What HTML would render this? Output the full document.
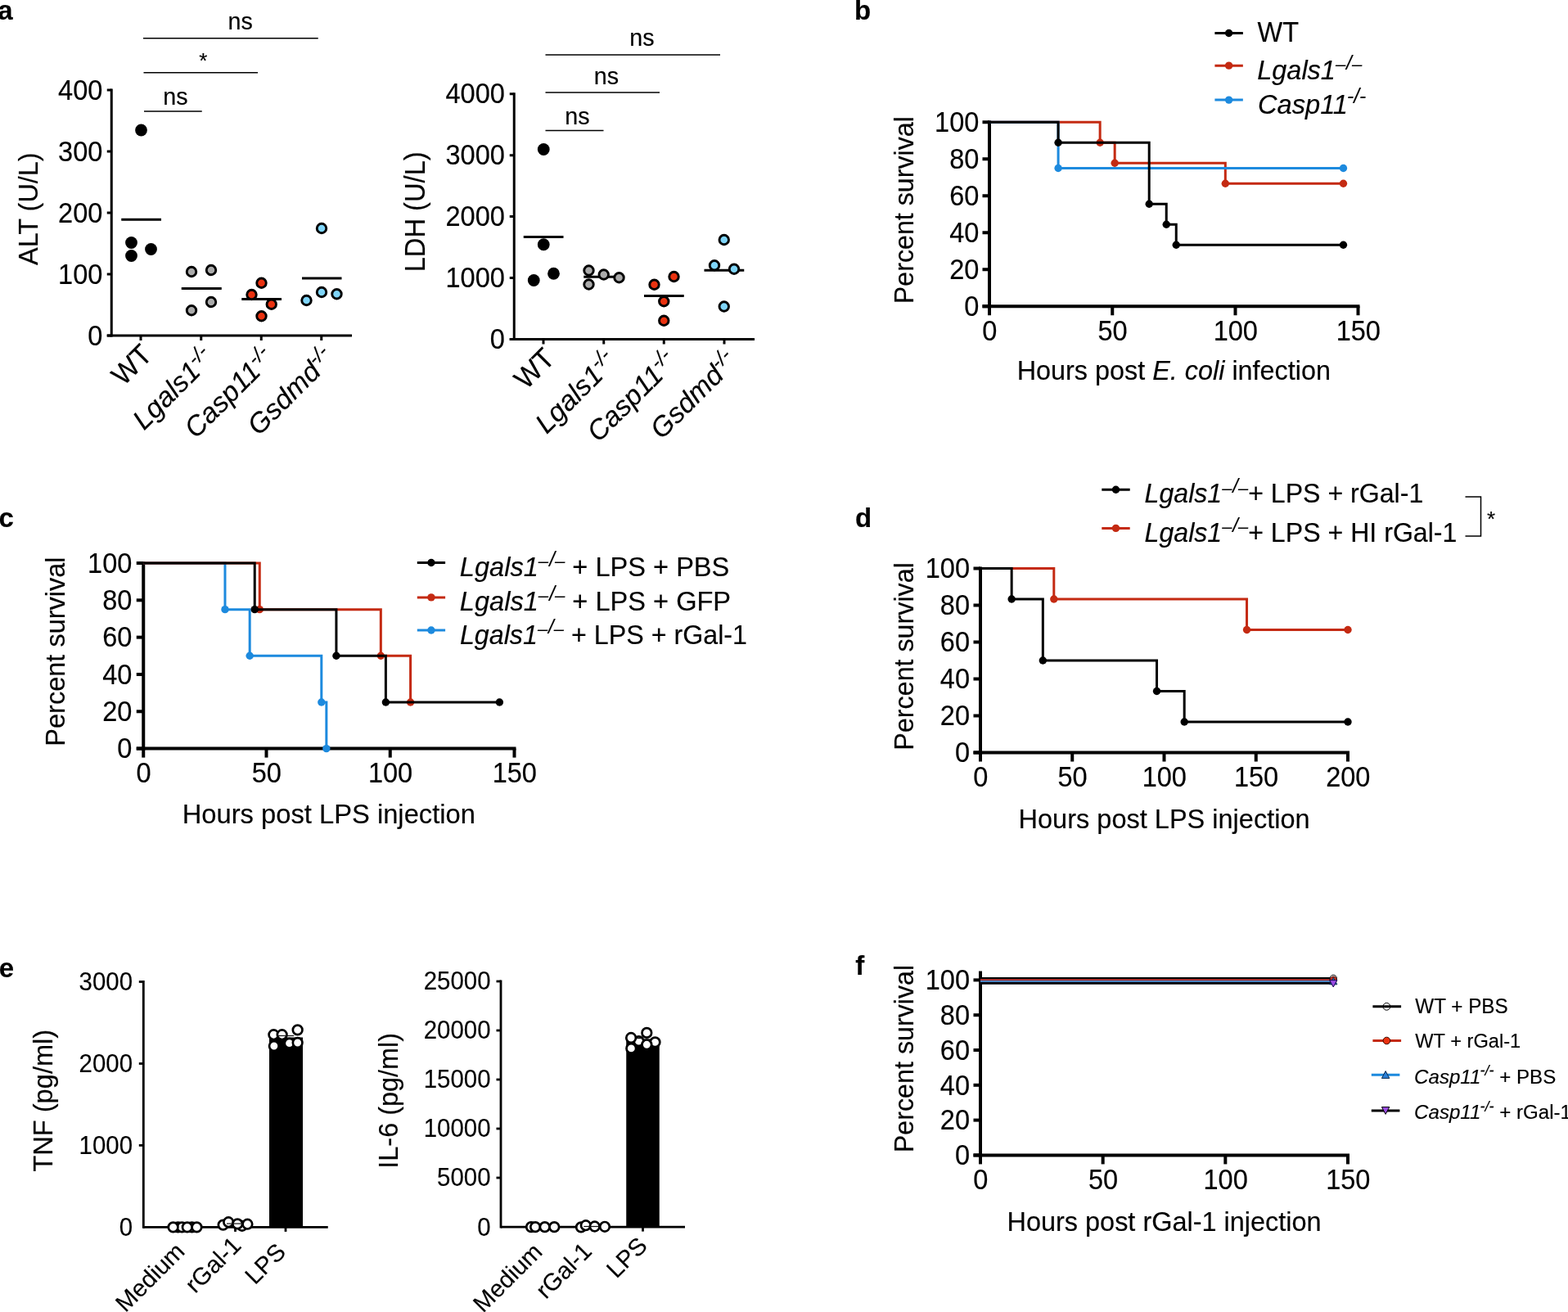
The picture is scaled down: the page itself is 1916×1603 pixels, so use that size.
<!DOCTYPE html>
<html lang="en">
<head>
<meta charset="utf-8">
<title>Figure</title>
<style>html,body{margin:0;padding:0;background:#fff}svg{display:block}text{white-space:pre}</style>
</head>
<body>
<svg xmlns="http://www.w3.org/2000/svg" width="1916" height="1603" viewBox="0 0 1916 1603" font-family='"Liberation Sans", Arial, Helvetica, sans-serif' fill="#000">
<style>text{stroke:#000;stroke-width:0.15px;stroke-linejoin:round}</style>
<rect width="1916" height="1603" fill="#fff"/>
<text transform="translate(-2.68 24.4)" font-size="33" font-weight="bold">a</text>
<line x1="136.25" y1="108.5" x2="136.25" y2="411.5" stroke="#000" stroke-width="3"/>
<line x1="130.75" y1="410" x2="430" y2="410" stroke="#000" stroke-width="3"/>
<line x1="130.75" y1="110" x2="136.25" y2="110" stroke="#000" stroke-width="3"/>
<text transform="translate(125.3 121.7) scale(1 1.07)" font-size="32.5" text-anchor="end">400</text>
<line x1="130.75" y1="185" x2="136.25" y2="185" stroke="#000" stroke-width="3"/>
<text transform="translate(125.3 196.7) scale(1 1.07)" font-size="32.5" text-anchor="end">300</text>
<line x1="130.75" y1="260" x2="136.25" y2="260" stroke="#000" stroke-width="3"/>
<text transform="translate(125.3 271.7) scale(1 1.07)" font-size="32.5" text-anchor="end">200</text>
<line x1="130.75" y1="335" x2="136.25" y2="335" stroke="#000" stroke-width="3"/>
<text transform="translate(125.3 346.7) scale(1 1.07)" font-size="32.5" text-anchor="end">100</text>
<line x1="130.75" y1="410" x2="136.25" y2="410" stroke="#000" stroke-width="3"/>
<text transform="translate(125.3 421.7) scale(1 1.07)" font-size="32.5" text-anchor="end">0</text>
<line x1="172" y1="410" x2="172" y2="416" stroke="#000" stroke-width="3"/>
<line x1="245.75" y1="410" x2="245.75" y2="416" stroke="#000" stroke-width="3"/>
<line x1="319.25" y1="410" x2="319.25" y2="416" stroke="#000" stroke-width="3"/>
<line x1="392.75" y1="410" x2="392.75" y2="416" stroke="#000" stroke-width="3"/>
<text transform="translate(188 435.5) rotate(-45) scale(1 1.03)" font-size="34" text-anchor="end">WT</text>
<text transform="translate(263.45 439.2) rotate(-45)" font-size="34" text-anchor="end" font-style="italic">Lgals1<tspan dy="-11.5" font-size="25">-/-</tspan></text>
<text transform="translate(336.95 439.2) rotate(-45)" font-size="34" text-anchor="end" font-style="italic">Casp11<tspan dy="-11.5" font-size="25">-/-</tspan></text>
<text transform="translate(410.45 439.2) rotate(-45)" font-size="34" text-anchor="end" font-style="italic">Gsdmd<tspan dy="-11.5" font-size="25">-/-</tspan></text>
<line x1="148.25" y1="268.25" x2="197" y2="268.25" stroke="#000" stroke-width="3"/>
<circle cx="172.5" cy="159" r="7.4" fill="#000"/>
<circle cx="160.5" cy="296.5" r="7.4" fill="#000"/>
<circle cx="184.5" cy="304.5" r="7.4" fill="#000"/>
<circle cx="160.5" cy="312.5" r="7.4" fill="#000"/>
<line x1="221.75" y1="352.5" x2="270.75" y2="352.5" stroke="#000" stroke-width="3"/>
<circle cx="234" cy="332" r="5.75" fill="#ababab" stroke="#000" stroke-width="2.9"/>
<circle cx="258" cy="330" r="5.75" fill="#ababab" stroke="#000" stroke-width="2.9"/>
<circle cx="258" cy="369" r="5.75" fill="#ababab" stroke="#000" stroke-width="2.9"/>
<circle cx="234" cy="379.25" r="5.75" fill="#ababab" stroke="#000" stroke-width="2.9"/>
<line x1="295.25" y1="365.5" x2="344" y2="365.5" stroke="#000" stroke-width="3"/>
<circle cx="319.5" cy="345.75" r="5.75" fill="#ea3210" stroke="#000" stroke-width="2.9"/>
<circle cx="307.5" cy="360" r="5.75" fill="#ea3210" stroke="#000" stroke-width="2.9"/>
<circle cx="331.75" cy="371.75" r="5.75" fill="#ea3210" stroke="#000" stroke-width="2.9"/>
<circle cx="319.5" cy="386.25" r="5.75" fill="#ea3210" stroke="#000" stroke-width="2.9"/>
<line x1="369" y1="340" x2="417.5" y2="340" stroke="#000" stroke-width="3"/>
<circle cx="393" cy="279" r="5.75" fill="#7fd5f9" stroke="#000" stroke-width="2.9"/>
<circle cx="374.5" cy="367" r="5.75" fill="#7fd5f9" stroke="#000" stroke-width="2.9"/>
<circle cx="393" cy="357" r="5.75" fill="#7fd5f9" stroke="#000" stroke-width="2.9"/>
<circle cx="411.5" cy="359.25" r="5.75" fill="#7fd5f9" stroke="#000" stroke-width="2.9"/>
<line x1="175" y1="46.75" x2="388.75" y2="46.75" stroke="#000" stroke-width="1.5"/>
<text transform="translate(293.7 36)" font-size="28.7" text-anchor="middle">ns</text>
<line x1="175.5" y1="88.75" x2="315" y2="88.75" stroke="#000" stroke-width="1.5"/>
<text transform="translate(248.3 83)" font-size="26" text-anchor="middle">*</text>
<line x1="176" y1="136" x2="246.75" y2="136" stroke="#000" stroke-width="1.5"/>
<text transform="translate(214.4 127.5)" font-size="28.7" text-anchor="middle">ns</text>
<text transform="translate(45.8 323.95) rotate(-90) scale(1 1.05)" font-size="32.46">ALT (U/L)</text>
<line x1="628.25" y1="113.25" x2="628.25" y2="416" stroke="#000" stroke-width="3"/>
<line x1="622.75" y1="414.5" x2="922" y2="414.5" stroke="#000" stroke-width="3"/>
<line x1="622.75" y1="114.75" x2="628.25" y2="114.75" stroke="#000" stroke-width="3"/>
<text transform="translate(616.8 126.45) scale(1 1.07)" font-size="32.5" text-anchor="end">4000</text>
<line x1="622.75" y1="189.75" x2="628.25" y2="189.75" stroke="#000" stroke-width="3"/>
<text transform="translate(616.8 201.45) scale(1 1.07)" font-size="32.5" text-anchor="end">3000</text>
<line x1="622.75" y1="264.5" x2="628.25" y2="264.5" stroke="#000" stroke-width="3"/>
<text transform="translate(616.8 276.2) scale(1 1.07)" font-size="32.5" text-anchor="end">2000</text>
<line x1="622.75" y1="339.5" x2="628.25" y2="339.5" stroke="#000" stroke-width="3"/>
<text transform="translate(616.8 351.2) scale(1 1.07)" font-size="32.5" text-anchor="end">1000</text>
<line x1="622.75" y1="414.5" x2="628.25" y2="414.5" stroke="#000" stroke-width="3"/>
<text transform="translate(616.8 426.2) scale(1 1.07)" font-size="32.5" text-anchor="end">0</text>
<line x1="664" y1="414.5" x2="664" y2="420.5" stroke="#000" stroke-width="3"/>
<line x1="737.75" y1="414.5" x2="737.75" y2="420.5" stroke="#000" stroke-width="3"/>
<line x1="811.25" y1="414.5" x2="811.25" y2="420.5" stroke="#000" stroke-width="3"/>
<line x1="885" y1="414.5" x2="885" y2="420.5" stroke="#000" stroke-width="3"/>
<text transform="translate(680 440) rotate(-45) scale(1 1.03)" font-size="34" text-anchor="end">WT</text>
<text transform="translate(755.45 443.7) rotate(-45)" font-size="34" text-anchor="end" font-style="italic">Lgals1<tspan dy="-11.5" font-size="25">-/-</tspan></text>
<text transform="translate(828.95 443.7) rotate(-45)" font-size="34" text-anchor="end" font-style="italic">Casp11<tspan dy="-11.5" font-size="25">-/-</tspan></text>
<text transform="translate(902.7 443.7) rotate(-45)" font-size="34" text-anchor="end" font-style="italic">Gsdmd<tspan dy="-11.5" font-size="25">-/-</tspan></text>
<line x1="639.75" y1="289.5" x2="688.5" y2="289.5" stroke="#000" stroke-width="3"/>
<circle cx="664.25" cy="182.5" r="7.4" fill="#000"/>
<circle cx="664.25" cy="298.75" r="7.4" fill="#000"/>
<circle cx="676.5" cy="334.25" r="7.4" fill="#000"/>
<circle cx="652.25" cy="342.5" r="7.4" fill="#000"/>
<line x1="713.25" y1="338.25" x2="762.25" y2="338.25" stroke="#000" stroke-width="3"/>
<circle cx="719.5" cy="330.5" r="5.75" fill="#ababab" stroke="#000" stroke-width="2.9"/>
<circle cx="719.5" cy="347.5" r="5.75" fill="#ababab" stroke="#000" stroke-width="2.9"/>
<circle cx="737.75" cy="335.5" r="5.75" fill="#ababab" stroke="#000" stroke-width="2.9"/>
<circle cx="756.5" cy="339.25" r="5.75" fill="#ababab" stroke="#000" stroke-width="2.9"/>
<line x1="787" y1="361.5" x2="835.75" y2="361.5" stroke="#000" stroke-width="3"/>
<circle cx="823.5" cy="338" r="5.75" fill="#ea3210" stroke="#000" stroke-width="2.9"/>
<circle cx="799.5" cy="347.75" r="5.75" fill="#ea3210" stroke="#000" stroke-width="2.9"/>
<circle cx="811.25" cy="368.25" r="5.75" fill="#ea3210" stroke="#000" stroke-width="2.9"/>
<circle cx="811.25" cy="391.75" r="5.75" fill="#ea3210" stroke="#000" stroke-width="2.9"/>
<line x1="860.5" y1="330.25" x2="909.25" y2="330.25" stroke="#000" stroke-width="3"/>
<circle cx="884.75" cy="293" r="5.75" fill="#7fd5f9" stroke="#000" stroke-width="2.9"/>
<circle cx="873" cy="324.25" r="5.75" fill="#7fd5f9" stroke="#000" stroke-width="2.9"/>
<circle cx="897" cy="328.75" r="5.75" fill="#7fd5f9" stroke="#000" stroke-width="2.9"/>
<circle cx="884.75" cy="374.5" r="5.75" fill="#7fd5f9" stroke="#000" stroke-width="2.9"/>
<line x1="666.5" y1="67" x2="880" y2="67" stroke="#000" stroke-width="1.5"/>
<text transform="translate(784.4 56.25)" font-size="28.7" text-anchor="middle">ns</text>
<line x1="666.5" y1="113" x2="806" y2="113" stroke="#000" stroke-width="1.5"/>
<text transform="translate(741 102.5)" font-size="28.7" text-anchor="middle">ns</text>
<line x1="666.5" y1="159.5" x2="737.5" y2="159.5" stroke="#000" stroke-width="1.5"/>
<text transform="translate(705.4 151.75)" font-size="28.7" text-anchor="middle">ns</text>
<text transform="translate(519 332.36) rotate(-90) scale(1 1.05)" font-size="32.68">LDH (U/L)</text>
<text transform="translate(1043.99 24.3)" font-size="33" font-weight="bold">b</text>
<line x1="1209" y1="147.25" x2="1209" y2="376.25" stroke="#000" stroke-width="4"/>
<line x1="1200.5" y1="374.25" x2="1661.5" y2="374.25" stroke="#000" stroke-width="4"/>
<line x1="1200.5" y1="149.25" x2="1209" y2="149.25" stroke="#000" stroke-width="4"/>
<text transform="translate(1196.3 160.95) scale(1 1.07)" font-size="32.5" text-anchor="end">100</text>
<line x1="1200.5" y1="194.25" x2="1209" y2="194.25" stroke="#000" stroke-width="4"/>
<text transform="translate(1196.3 205.95) scale(1 1.07)" font-size="32.5" text-anchor="end">80</text>
<line x1="1200.5" y1="239.25" x2="1209" y2="239.25" stroke="#000" stroke-width="4"/>
<text transform="translate(1196.3 250.95) scale(1 1.07)" font-size="32.5" text-anchor="end">60</text>
<line x1="1200.5" y1="284.25" x2="1209" y2="284.25" stroke="#000" stroke-width="4"/>
<text transform="translate(1196.3 295.95) scale(1 1.07)" font-size="32.5" text-anchor="end">40</text>
<line x1="1200.5" y1="329.25" x2="1209" y2="329.25" stroke="#000" stroke-width="4"/>
<text transform="translate(1196.3 340.95) scale(1 1.07)" font-size="32.5" text-anchor="end">20</text>
<line x1="1200.5" y1="374.25" x2="1209" y2="374.25" stroke="#000" stroke-width="4"/>
<text transform="translate(1196.3 385.95) scale(1 1.07)" font-size="32.5" text-anchor="end">0</text>
<line x1="1209" y1="374.25" x2="1209" y2="385.25" stroke="#000" stroke-width="4"/>
<text transform="translate(1209.3 415.5) scale(1 1.07)" font-size="32.5" text-anchor="middle">0</text>
<line x1="1359.25" y1="374.25" x2="1359.25" y2="385.25" stroke="#000" stroke-width="4"/>
<text transform="translate(1359.55 415.5) scale(1 1.07)" font-size="32.5" text-anchor="middle">50</text>
<line x1="1509.5" y1="374.25" x2="1509.5" y2="385.25" stroke="#000" stroke-width="4"/>
<text transform="translate(1509.8 415.5) scale(1 1.07)" font-size="32.5" text-anchor="middle">100</text>
<line x1="1659.5" y1="374.25" x2="1659.5" y2="385.25" stroke="#000" stroke-width="4"/>
<text transform="translate(1659.8 415.5) scale(1 1.07)" font-size="32.5" text-anchor="middle">150</text>
<text transform="translate(1115.7 371.23) rotate(-90) scale(1 1.02)" font-size="32.22">Percent survival</text>
<text transform="translate(1242.66 463.9) scale(1 1.02)" font-size="32.39">Hours post <tspan font-style="italic">E. coli</tspan> infection</text>
<path d="M1209 149.25 H1344.15 V174.25 H1362.17 V199.25 H1497.32 V224.24 H1641.48" fill="none" stroke="#c42a12" stroke-width="3"/>
<circle cx="1344.15" cy="174.25" r="4.7" fill="#c42a12"/>
<circle cx="1362.17" cy="199.25" r="4.7" fill="#c42a12"/>
<circle cx="1497.32" cy="224.24" r="4.7" fill="#c42a12"/>
<circle cx="1641.48" cy="224.24" r="4.7" fill="#c42a12"/>
<path d="M1209 149.25 H1293.09 V205.5 H1641.48" fill="none" stroke="#1d8ade" stroke-width="3"/>
<circle cx="1293.09" cy="205.5" r="4.7" fill="#1d8ade"/>
<circle cx="1641.48" cy="205.5" r="4.7" fill="#1d8ade"/>
<path d="M1209 149.25 H1293.09 V174.25 H1404.21 V249.24 H1425.24 V274.26 H1437.25 V299.26 H1641.48" fill="none" stroke="#000" stroke-width="3"/>
<circle cx="1293.09" cy="174.25" r="4.7" fill="#000"/>
<circle cx="1404.21" cy="249.24" r="4.7" fill="#000"/>
<circle cx="1425.24" cy="274.26" r="4.7" fill="#000"/>
<circle cx="1437.25" cy="299.26" r="4.7" fill="#000"/>
<circle cx="1641.48" cy="299.26" r="4.7" fill="#000"/>
<line x1="1484.4" y1="40.45" x2="1518.85" y2="40.45" stroke="#000" stroke-width="3"/>
<circle cx="1501.62" cy="40.45" r="4.7" fill="#000"/>
<line x1="1484.4" y1="80.15" x2="1518.85" y2="80.15" stroke="#c42a12" stroke-width="3"/>
<circle cx="1501.62" cy="80.15" r="4.7" fill="#c42a12"/>
<line x1="1484.4" y1="122.1" x2="1518.85" y2="122.1" stroke="#1d8ade" stroke-width="3"/>
<circle cx="1501.62" cy="122.1" r="4.7" fill="#1d8ade"/>
<text transform="translate(1536.52 50.95) scale(1 1.06)" font-size="32.5">WT</text>
<text transform="translate(1536.28 96.65) scale(1 1.02)" font-size="32.46"><tspan font-style="italic">Lgals1</tspan><tspan font-style="italic" dy="-10.78" font-size="22.07">–</tspan><tspan font-style="italic" dy="-1.14" dx="0.97" font-size="24.34">/</tspan><tspan font-style="italic" dy="1.14" font-size="22.07">–</tspan></text>
<text transform="translate(1536.89 138.7) scale(1 1.02)" font-size="32.67"><tspan font-style="italic">Casp11</tspan><tspan font-style="italic" dy="-11.99" dx="-0.98" font-size="24.5">-/-</tspan></text>
<text transform="translate(-1.39 644.2)" font-size="33" font-weight="bold">c</text>
<line x1="175.25" y1="686" x2="175.25" y2="916.6" stroke="#000" stroke-width="4"/>
<line x1="166.75" y1="914.6" x2="630.5" y2="914.6" stroke="#000" stroke-width="4"/>
<line x1="166.75" y1="688" x2="175.25" y2="688" stroke="#000" stroke-width="4"/>
<text transform="translate(161.3 699.7) scale(1 1.07)" font-size="32.5" text-anchor="end">100</text>
<line x1="166.75" y1="733.32" x2="175.25" y2="733.32" stroke="#000" stroke-width="4"/>
<text transform="translate(161.3 745.02) scale(1 1.07)" font-size="32.5" text-anchor="end">80</text>
<line x1="166.75" y1="778.64" x2="175.25" y2="778.64" stroke="#000" stroke-width="4"/>
<text transform="translate(161.3 790.34) scale(1 1.07)" font-size="32.5" text-anchor="end">60</text>
<line x1="166.75" y1="823.96" x2="175.25" y2="823.96" stroke="#000" stroke-width="4"/>
<text transform="translate(161.3 835.66) scale(1 1.07)" font-size="32.5" text-anchor="end">40</text>
<line x1="166.75" y1="869.28" x2="175.25" y2="869.28" stroke="#000" stroke-width="4"/>
<text transform="translate(161.3 880.98) scale(1 1.07)" font-size="32.5" text-anchor="end">20</text>
<line x1="166.75" y1="914.6" x2="175.25" y2="914.6" stroke="#000" stroke-width="4"/>
<text transform="translate(161.3 926.3) scale(1 1.07)" font-size="32.5" text-anchor="end">0</text>
<line x1="175.25" y1="914.6" x2="175.25" y2="925.6" stroke="#000" stroke-width="4"/>
<text transform="translate(175.55 955.5) scale(1 1.07)" font-size="32.5" text-anchor="middle">0</text>
<line x1="325.5" y1="914.6" x2="325.5" y2="925.6" stroke="#000" stroke-width="4"/>
<text transform="translate(325.8 955.5) scale(1 1.07)" font-size="32.5" text-anchor="middle">50</text>
<line x1="476.75" y1="914.6" x2="476.75" y2="925.6" stroke="#000" stroke-width="4"/>
<text transform="translate(477.05 955.5) scale(1 1.07)" font-size="32.5" text-anchor="middle">100</text>
<line x1="628.5" y1="914.6" x2="628.5" y2="925.6" stroke="#000" stroke-width="4"/>
<text transform="translate(628.8 955.5) scale(1 1.07)" font-size="32.5" text-anchor="middle">150</text>
<text transform="translate(79.25 911.65) rotate(-90) scale(1 1.02)" font-size="32.51">Percent survival</text>
<text transform="translate(222.68 1006.3) scale(1 1.02)" font-size="32.73">Hours post LPS injection</text>
<path d="M175.25 688 H274.97 V744.65 H305.18 V801.3 H392.81 V857.95 H398.86 V914.6" fill="none" stroke="#1d8ade" stroke-width="3"/>
<circle cx="274.97" cy="744.65" r="4.7" fill="#1d8ade"/>
<circle cx="305.18" cy="801.3" r="4.7" fill="#1d8ade"/>
<circle cx="392.81" cy="857.95" r="4.7" fill="#1d8ade"/>
<circle cx="398.86" cy="914.6" r="4.7" fill="#1d8ade"/>
<path d="M175.25 688 H317.27 V744.65 H465.33 V801.3 H501.59 V857.95" fill="none" stroke="#c42a12" stroke-width="3"/>
<circle cx="317.27" cy="744.65" r="4.7" fill="#c42a12"/>
<circle cx="465.33" cy="801.3" r="4.7" fill="#c42a12"/>
<circle cx="501.59" cy="857.95" r="4.7" fill="#c42a12"/>
<path d="M175.25 688 H311.23 V744.65 H410.94 V801.3 H471.38 V857.95 H610.37" fill="none" stroke="#000" stroke-width="3"/>
<circle cx="311.23" cy="744.65" r="4.7" fill="#000"/>
<circle cx="410.94" cy="801.3" r="4.7" fill="#000"/>
<circle cx="471.38" cy="857.95" r="4.7" fill="#000"/>
<circle cx="610.37" cy="857.95" r="4.7" fill="#000"/>
<line x1="509.8" y1="687.5" x2="544.1" y2="687.5" stroke="#000" stroke-width="3"/>
<circle cx="526.95" cy="687.5" r="4.7" fill="#000"/>
<line x1="509.8" y1="729.9" x2="544.1" y2="729.9" stroke="#c42a12" stroke-width="3"/>
<circle cx="526.95" cy="729.9" r="4.7" fill="#c42a12"/>
<line x1="509.8" y1="770" x2="544.1" y2="770" stroke="#1d8ade" stroke-width="3"/>
<circle cx="526.95" cy="770" r="4.7" fill="#1d8ade"/>
<text transform="translate(561.87 704.45) scale(1 1.02)" font-size="32.6"><tspan font-style="italic">Lgals1</tspan><tspan font-style="italic" dy="-10.82" font-size="22.17">–</tspan><tspan font-style="italic" dy="-1.14" dx="0.98" font-size="24.45">/</tspan><tspan font-style="italic" dy="1.14" font-size="22.17">–</tspan><tspan dy="10.82" font-size="32.6"> + LPS + PBS</tspan></text>
<text transform="translate(561.87 746.4) scale(1 1.02)" font-size="32.6"><tspan font-style="italic">Lgals1</tspan><tspan font-style="italic" dy="-10.82" font-size="22.17">–</tspan><tspan font-style="italic" dy="-1.14" dx="0.98" font-size="24.45">/</tspan><tspan font-style="italic" dy="1.14" font-size="22.17">–</tspan><tspan dy="10.82" font-size="32.6"> + LPS + GFP</tspan></text>
<text transform="translate(561.88 786.5) scale(1 1.02)" font-size="32.25"><tspan font-style="italic">Lgals1</tspan><tspan font-style="italic" dy="-10.71" font-size="21.93">–</tspan><tspan font-style="italic" dy="-1.13" dx="0.97" font-size="24.19">/</tspan><tspan font-style="italic" dy="1.13" font-size="21.93">–</tspan><tspan dy="10.71" font-size="32.25"> + LPS + rGal-1</tspan></text>
<text transform="translate(1044.98 643.8)" font-size="33" font-weight="bold">d</text>
<line x1="1198" y1="692.5" x2="1198" y2="921.5" stroke="#000" stroke-width="4"/>
<line x1="1189.5" y1="919.5" x2="1649" y2="919.5" stroke="#000" stroke-width="4"/>
<line x1="1189.5" y1="694.5" x2="1198" y2="694.5" stroke="#000" stroke-width="4"/>
<text transform="translate(1185 706.2) scale(1 1.07)" font-size="32.5" text-anchor="end">100</text>
<line x1="1189.5" y1="739.5" x2="1198" y2="739.5" stroke="#000" stroke-width="4"/>
<text transform="translate(1185 751.2) scale(1 1.07)" font-size="32.5" text-anchor="end">80</text>
<line x1="1189.5" y1="784.5" x2="1198" y2="784.5" stroke="#000" stroke-width="4"/>
<text transform="translate(1185 796.2) scale(1 1.07)" font-size="32.5" text-anchor="end">60</text>
<line x1="1189.5" y1="829.5" x2="1198" y2="829.5" stroke="#000" stroke-width="4"/>
<text transform="translate(1185 841.2) scale(1 1.07)" font-size="32.5" text-anchor="end">40</text>
<line x1="1189.5" y1="874.5" x2="1198" y2="874.5" stroke="#000" stroke-width="4"/>
<text transform="translate(1185 886.2) scale(1 1.07)" font-size="32.5" text-anchor="end">20</text>
<line x1="1189.5" y1="919.5" x2="1198" y2="919.5" stroke="#000" stroke-width="4"/>
<text transform="translate(1185 931.2) scale(1 1.07)" font-size="32.5" text-anchor="end">0</text>
<line x1="1198" y1="919.5" x2="1198" y2="930.5" stroke="#000" stroke-width="4"/>
<text transform="translate(1198.3 960.6) scale(1 1.07)" font-size="32.5" text-anchor="middle">0</text>
<line x1="1310.25" y1="919.5" x2="1310.25" y2="930.5" stroke="#000" stroke-width="4"/>
<text transform="translate(1310.55 960.6) scale(1 1.07)" font-size="32.5" text-anchor="middle">50</text>
<line x1="1422.5" y1="919.5" x2="1422.5" y2="930.5" stroke="#000" stroke-width="4"/>
<text transform="translate(1422.8 960.6) scale(1 1.07)" font-size="32.5" text-anchor="middle">100</text>
<line x1="1534.75" y1="919.5" x2="1534.75" y2="930.5" stroke="#000" stroke-width="4"/>
<text transform="translate(1535.05 960.6) scale(1 1.07)" font-size="32.5" text-anchor="middle">150</text>
<line x1="1647" y1="919.5" x2="1647" y2="930.5" stroke="#000" stroke-width="4"/>
<text transform="translate(1647.3 960.6) scale(1 1.07)" font-size="32.5" text-anchor="middle">200</text>
<text transform="translate(1115.7 916.63) rotate(-90) scale(1 1.02)" font-size="32.28">Percent survival</text>
<text transform="translate(1244.55 1011.65) scale(1 1.02)" font-size="32.53">Hours post LPS injection</text>
<path d="M1198 694.5 H1287.8 V732.01 H1523.53 V769.49 H1647" fill="none" stroke="#c42a12" stroke-width="3"/>
<circle cx="1287.8" cy="732.01" r="4.7" fill="#c42a12"/>
<circle cx="1523.53" cy="769.49" r="4.7" fill="#c42a12"/>
<circle cx="1647" cy="769.49" r="4.7" fill="#c42a12"/>
<path d="M1198 694.5 H1236.16 V732.01 H1274.33 V807 H1413.52 V844.51 H1447.19 V881.99 H1647" fill="none" stroke="#000" stroke-width="3"/>
<circle cx="1236.16" cy="732.01" r="4.7" fill="#000"/>
<circle cx="1274.33" cy="807" r="4.7" fill="#000"/>
<circle cx="1413.52" cy="844.51" r="4.7" fill="#000"/>
<circle cx="1447.19" cy="881.99" r="4.7" fill="#000"/>
<circle cx="1647" cy="881.99" r="4.7" fill="#000"/>
<line x1="1346.3" y1="598.2" x2="1380.7" y2="598.2" stroke="#000" stroke-width="3"/>
<circle cx="1363.5" cy="598.2" r="4.7" fill="#000"/>
<line x1="1346.3" y1="645.4" x2="1380.7" y2="645.4" stroke="#c42a12" stroke-width="3"/>
<circle cx="1363.5" cy="645.4" r="4.7" fill="#c42a12"/>
<text transform="translate(1398.59 614.45) scale(1 1.02)" font-size="32.11"><tspan font-style="italic">Lgals1</tspan><tspan font-style="italic" dy="-10.66" font-size="21.83">–</tspan><tspan font-style="italic" dy="-1.12" dx="0.96" font-size="24.08">/</tspan><tspan font-style="italic" dy="1.12" font-size="21.83">–</tspan><tspan dy="10.66" font-size="32.11">+ LPS + rGal-1</tspan></text>
<text transform="translate(1398.59 662.05) scale(1 1.02)" font-size="32.13"><tspan font-style="italic">Lgals1</tspan><tspan font-style="italic" dy="-10.67" font-size="21.85">–</tspan><tspan font-style="italic" dy="-1.12" dx="0.96" font-size="24.09">/</tspan><tspan font-style="italic" dy="1.12" font-size="21.85">–</tspan><tspan dy="10.67" font-size="32.13">+ LPS + HI rGal-1</tspan></text>
<path d="M1790.5 607 H1809.5 V654.9 H1790.5" fill="none" stroke="#000" stroke-width="1.5"/>
<text transform="translate(1822 642.5)" font-size="26" text-anchor="middle">*</text>
<text transform="translate(-1.36 1194.4)" font-size="33" font-weight="bold">e</text>
<line x1="175.3" y1="1198.1" x2="175.3" y2="1500.8" stroke="#000" stroke-width="2.8"/>
<line x1="175.3" y1="1499.4" x2="400.75" y2="1499.4" stroke="#000" stroke-width="2.8"/>
<line x1="169.8" y1="1199.5" x2="175.3" y2="1199.5" stroke="#000" stroke-width="2.8"/>
<text transform="translate(162 1209.9) scale(1 1.07)" font-size="29.4" text-anchor="end">3000</text>
<line x1="169.8" y1="1299.5" x2="175.3" y2="1299.5" stroke="#000" stroke-width="2.8"/>
<text transform="translate(162 1309.9) scale(1 1.07)" font-size="29.4" text-anchor="end">2000</text>
<line x1="169.8" y1="1399.4" x2="175.3" y2="1399.4" stroke="#000" stroke-width="2.8"/>
<text transform="translate(162 1409.8) scale(1 1.07)" font-size="29.4" text-anchor="end">1000</text>
<text transform="translate(162 1509.8) scale(1 1.07)" font-size="29.4" text-anchor="end">0</text>
<line x1="226" y1="1499.4" x2="226" y2="1504.9" stroke="#000" stroke-width="2.8"/>
<line x1="287.5" y1="1499.4" x2="287.5" y2="1504.9" stroke="#000" stroke-width="2.8"/>
<line x1="349" y1="1499.4" x2="349" y2="1504.9" stroke="#000" stroke-width="2.8"/>
<text transform="translate(227.3 1530.6) rotate(-45)" font-size="29.4" text-anchor="end">Medium</text>
<text transform="translate(296.3 1523.4) rotate(-45)" font-size="29.4" text-anchor="end">rGal-1</text>
<text transform="translate(350.8 1531.4) rotate(-45)" font-size="29.4" text-anchor="end">LPS</text>
<rect x="329" y="1267.5" width="41" height="231.9" fill="#000"/>
<circle cx="217.5" cy="1499.4" r="5.8" fill="#fff" stroke="#000" stroke-width="2.7"/>
<circle cx="234.5" cy="1499.4" r="5.8" fill="#fff" stroke="#000" stroke-width="2.7"/>
<circle cx="222.3" cy="1499.4" r="5.8" fill="#fff" stroke="#000" stroke-width="2.7"/>
<circle cx="211.6" cy="1499.4" r="5.8" fill="#fff" stroke="#000" stroke-width="2.7"/>
<circle cx="228.8" cy="1499.4" r="5.8" fill="#fff" stroke="#000" stroke-width="2.7"/>
<circle cx="240.4" cy="1499.4" r="5.8" fill="#fff" stroke="#000" stroke-width="2.7"/>
<circle cx="295.8" cy="1497.8" r="5.8" fill="#fff" stroke="#000" stroke-width="2.7"/>
<circle cx="272.65" cy="1496.6" r="5.8" fill="#fff" stroke="#000" stroke-width="2.7"/>
<circle cx="279.2" cy="1493.2" r="5.8" fill="#fff" stroke="#000" stroke-width="2.7"/>
<circle cx="290.2" cy="1495.4" r="5.8" fill="#fff" stroke="#000" stroke-width="2.7"/>
<circle cx="302.4" cy="1495.7" r="5.8" fill="#fff" stroke="#000" stroke-width="2.7"/>
<circle cx="334.4" cy="1264.2" r="5.8" fill="#fff" stroke="#000" stroke-width="2.7"/>
<circle cx="344.65" cy="1264.2" r="5.8" fill="#fff" stroke="#000" stroke-width="2.7"/>
<circle cx="363.65" cy="1258.4" r="5.8" fill="#fff" stroke="#000" stroke-width="2.7"/>
<circle cx="334.85" cy="1278" r="5.8" fill="#fff" stroke="#000" stroke-width="2.7"/>
<circle cx="353.6" cy="1274.65" r="5.8" fill="#fff" stroke="#000" stroke-width="2.7"/>
<circle cx="363.65" cy="1274" r="5.8" fill="#fff" stroke="#000" stroke-width="2.7"/>
<line x1="340" y1="1265.5" x2="359.3" y2="1265.5" stroke="#111" stroke-width="1.2"/>
<line x1="277" y1="1495.05" x2="294.6" y2="1495.05" stroke="#111" stroke-width="1.2"/>
<text transform="translate(64.4 1431.7) rotate(-90) scale(1 1.02)" font-size="32.63">TNF (pg/ml)</text>
<line x1="612" y1="1197.6" x2="612" y2="1500.5" stroke="#000" stroke-width="2.8"/>
<line x1="612" y1="1499.1" x2="837" y2="1499.1" stroke="#000" stroke-width="2.8"/>
<line x1="606.5" y1="1199" x2="612" y2="1199" stroke="#000" stroke-width="2.8"/>
<text transform="translate(599.5 1209.4) scale(1 1.07)" font-size="29.4" text-anchor="end">25000</text>
<line x1="606.5" y1="1259" x2="612" y2="1259" stroke="#000" stroke-width="2.8"/>
<text transform="translate(599.5 1269.4) scale(1 1.07)" font-size="29.4" text-anchor="end">20000</text>
<line x1="606.5" y1="1319" x2="612" y2="1319" stroke="#000" stroke-width="2.8"/>
<text transform="translate(599.5 1329.4) scale(1 1.07)" font-size="29.4" text-anchor="end">15000</text>
<line x1="606.5" y1="1379" x2="612" y2="1379" stroke="#000" stroke-width="2.8"/>
<text transform="translate(599.5 1389.4) scale(1 1.07)" font-size="29.4" text-anchor="end">10000</text>
<line x1="606.5" y1="1439" x2="612" y2="1439" stroke="#000" stroke-width="2.8"/>
<text transform="translate(599.5 1449.4) scale(1 1.07)" font-size="29.4" text-anchor="end">5000</text>
<text transform="translate(599.5 1509.5) scale(1 1.07)" font-size="29.4" text-anchor="end">0</text>
<line x1="662.5" y1="1499.1" x2="662.5" y2="1504.6" stroke="#000" stroke-width="2.8"/>
<line x1="724" y1="1499.1" x2="724" y2="1504.6" stroke="#000" stroke-width="2.8"/>
<line x1="785.5" y1="1499.1" x2="785.5" y2="1504.6" stroke="#000" stroke-width="2.8"/>
<text transform="translate(664.3 1531.1) rotate(-45)" font-size="29.4" text-anchor="end">Medium</text>
<text transform="translate(724.8 1530.5) rotate(-45)" font-size="29.4" text-anchor="end">rGal-1</text>
<text transform="translate(792.5 1523.8) rotate(-45)" font-size="29.4" text-anchor="end">LPS</text>
<rect x="765.25" y="1269.5" width="40.5" height="229.6" fill="#000"/>
<circle cx="649" cy="1499.1" r="5.8" fill="#fff" stroke="#000" stroke-width="2.7"/>
<circle cx="654.1" cy="1499.1" r="5.8" fill="#fff" stroke="#000" stroke-width="2.7"/>
<circle cx="665.7" cy="1499.1" r="5.8" fill="#fff" stroke="#000" stroke-width="2.7"/>
<circle cx="677.3" cy="1499.1" r="5.8" fill="#fff" stroke="#000" stroke-width="2.7"/>
<circle cx="710" cy="1499.4" r="5.8" fill="#fff" stroke="#000" stroke-width="2.7"/>
<circle cx="715.8" cy="1497.2" r="5.8" fill="#fff" stroke="#000" stroke-width="2.7"/>
<circle cx="726.7" cy="1498.5" r="5.8" fill="#fff" stroke="#000" stroke-width="2.7"/>
<circle cx="739" cy="1498.8" r="5.8" fill="#fff" stroke="#000" stroke-width="2.7"/>
<circle cx="780.5" cy="1272.15" r="5.8" fill="#fff" stroke="#000" stroke-width="2.7"/>
<circle cx="771.1" cy="1268" r="5.8" fill="#fff" stroke="#000" stroke-width="2.7"/>
<circle cx="790.3" cy="1261.9" r="5.8" fill="#fff" stroke="#000" stroke-width="2.7"/>
<circle cx="771.3" cy="1280.9" r="5.8" fill="#fff" stroke="#000" stroke-width="2.7"/>
<circle cx="800.5" cy="1273.4" r="5.8" fill="#fff" stroke="#000" stroke-width="2.7"/>
<circle cx="790.3" cy="1276.3" r="5.8" fill="#fff" stroke="#000" stroke-width="2.7"/>
<line x1="778" y1="1268.6" x2="783.8" y2="1268.6" stroke="#111" stroke-width="1.2"/>
<line x1="713.3" y1="1498.5" x2="732.7" y2="1498.5" stroke="#111" stroke-width="1.2"/>
<text transform="translate(485.6 1427.67) rotate(-90) scale(1 1.02)" font-size="32.4">IL-6 (pg/ml)</text>
<text transform="translate(1045.34 1190.75)" font-size="33" font-weight="bold">f</text>
<line x1="1198" y1="1186.5" x2="1198" y2="1413.4" stroke="#000" stroke-width="4"/>
<line x1="1189.5" y1="1411.4" x2="1649" y2="1411.4" stroke="#000" stroke-width="4"/>
<line x1="1189.5" y1="1197.4" x2="1198" y2="1197.4" stroke="#000" stroke-width="4"/>
<text transform="translate(1185 1209.1) scale(1 1.07)" font-size="32.5" text-anchor="end">100</text>
<line x1="1189.5" y1="1240.2" x2="1198" y2="1240.2" stroke="#000" stroke-width="4"/>
<text transform="translate(1185 1251.9) scale(1 1.07)" font-size="32.5" text-anchor="end">80</text>
<line x1="1189.5" y1="1283" x2="1198" y2="1283" stroke="#000" stroke-width="4"/>
<text transform="translate(1185 1294.7) scale(1 1.07)" font-size="32.5" text-anchor="end">60</text>
<line x1="1189.5" y1="1325.8" x2="1198" y2="1325.8" stroke="#000" stroke-width="4"/>
<text transform="translate(1185 1337.5) scale(1 1.07)" font-size="32.5" text-anchor="end">40</text>
<line x1="1189.5" y1="1368.6" x2="1198" y2="1368.6" stroke="#000" stroke-width="4"/>
<text transform="translate(1185 1380.3) scale(1 1.07)" font-size="32.5" text-anchor="end">20</text>
<line x1="1189.5" y1="1411.4" x2="1198" y2="1411.4" stroke="#000" stroke-width="4"/>
<text transform="translate(1185 1423.1) scale(1 1.07)" font-size="32.5" text-anchor="end">0</text>
<line x1="1198" y1="1411.4" x2="1198" y2="1422.4" stroke="#000" stroke-width="4"/>
<text transform="translate(1198.3 1452.7) scale(1 1.07)" font-size="32.5" text-anchor="middle">0</text>
<line x1="1347.67" y1="1411.4" x2="1347.67" y2="1422.4" stroke="#000" stroke-width="4"/>
<text transform="translate(1347.97 1452.7) scale(1 1.07)" font-size="32.5" text-anchor="middle">50</text>
<line x1="1497.33" y1="1411.4" x2="1497.33" y2="1422.4" stroke="#000" stroke-width="4"/>
<text transform="translate(1497.63 1452.7) scale(1 1.07)" font-size="32.5" text-anchor="middle">100</text>
<line x1="1647" y1="1411.4" x2="1647" y2="1422.4" stroke="#000" stroke-width="4"/>
<text transform="translate(1647.3 1452.7) scale(1 1.07)" font-size="32.5" text-anchor="middle">150</text>
<text transform="translate(1115.5 1408.23) rotate(-90) scale(1 1.02)" font-size="32.28">Percent survival</text>
<text transform="translate(1230.45 1503.65) scale(1 1.02)" font-size="32.47">Hours post rGal-1 injection</text>
<line x1="1198" y1="1195.4" x2="1629.25" y2="1195.4" stroke="#000" stroke-width="2.8"/>
<line x1="1198" y1="1197.3" x2="1629.25" y2="1197.3" stroke="#aa3030" stroke-width="2.8"/>
<line x1="1198" y1="1199.4" x2="1629.25" y2="1199.4" stroke="#4a80be" stroke-width="2.8"/>
<line x1="1198" y1="1201.4" x2="1629.25" y2="1201.4" stroke="#00000a" stroke-width="2.8"/>
<circle cx="1629.25" cy="1195.4" r="4.2" fill="#fff" stroke="#000" stroke-width="1"/>
<circle cx="1629.25" cy="1197.3" r="4.2" fill="#d23020" stroke="#3a0a00" stroke-width="1"/>
<path d="M1629.25 1194.4 l4.6 8.4 h-9.2 z" fill="#2a7fd6" stroke="#0a2a50" stroke-width="1"/>
<path d="M1629.25 1206 l4.6 -8.4 h-9.2 z" fill="#9a4ce4" stroke="#1a0a50" stroke-width="1"/>
<line x1="1677.4" y1="1229.8" x2="1712.1" y2="1229.8" stroke="#000" stroke-width="3"/>
<line x1="1677.4" y1="1271.5" x2="1712.1" y2="1271.5" stroke="#c42a12" stroke-width="3"/>
<line x1="1675.8" y1="1313.2" x2="1710.4" y2="1313.2" stroke="#1d8ade" stroke-width="3"/>
<line x1="1675.8" y1="1356.9" x2="1710.4" y2="1356.9" stroke="#000" stroke-width="3"/>
<circle cx="1694.4" cy="1229.8" r="4.4" fill="none" stroke="#000" stroke-width="1"/>
<circle cx="1694.4" cy="1271.5" r="4.3" fill="#ea3210" stroke="#3a0a00" stroke-width="1"/>
<path d="M1693.1 1308.6 L1697.8 1317.4 H1688.4 Z" fill="#2a7fd6" stroke="#0a2a50" stroke-width="1" stroke-linejoin="miter"/>
<path d="M1693.1 1361.4 L1697.8 1352.6 H1688.4 Z" fill="#9a4ce4" stroke="#000" stroke-width="1" stroke-linejoin="miter"/>
<text transform="translate(1729.31 1237.9) scale(1 1.05)" font-size="24.24">WT + PBS</text>
<text transform="translate(1729.31 1279.6) scale(1 1.03)" font-size="23.64">WT + rGal-1</text>
<text transform="translate(1728.11 1323.5) scale(1 1.02)" font-size="24.08"><tspan font-style="italic">Casp11</tspan><tspan font-style="italic" dy="-8.84" dx="-0.72" font-size="18.06">-/-</tspan><tspan dy="8.84" font-size="24.08"> + PBS</tspan></text>
<text transform="translate(1728.11 1367.2) scale(1 1.02)" font-size="24.08"><tspan font-style="italic">Casp11</tspan><tspan font-style="italic" dy="-8.84" dx="-0.72" font-size="18.06">-/-</tspan><tspan dy="8.84" font-size="24.08"> + rGal-1</tspan></text>
</svg>
</body>
</html>
